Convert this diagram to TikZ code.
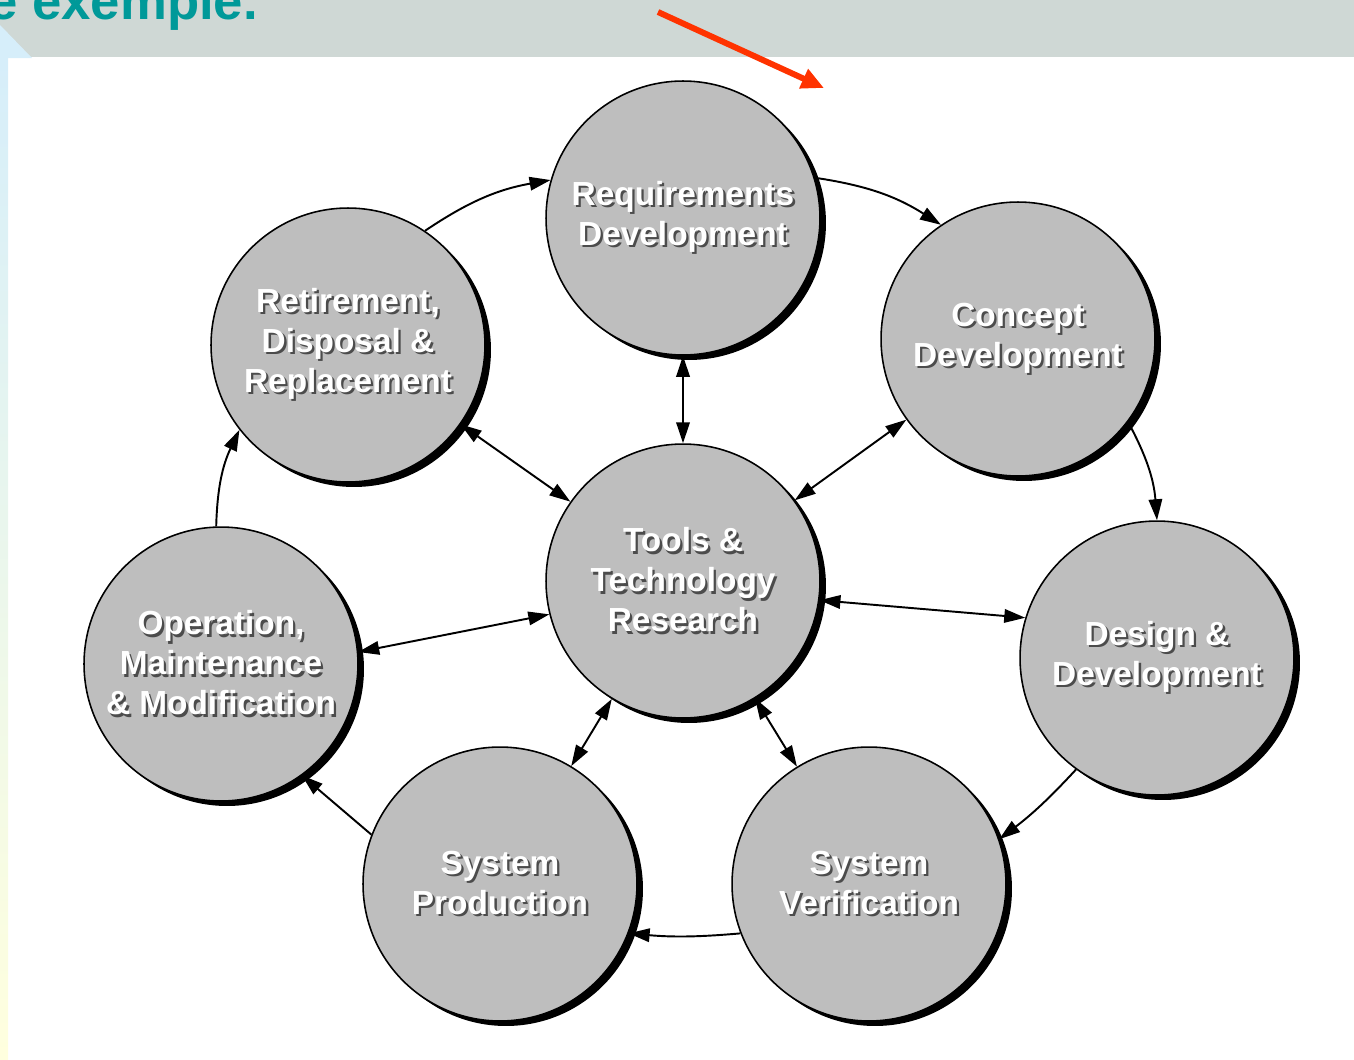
\documentclass[tikz,border=0pt]{standalone}
\usepackage{fontspec}
\setmainfont{Liberation Sans}
\usetikzlibrary{arrows.meta,shadows}
\definecolor{phasegray}{RGB}{190,190,190}
\definecolor{bandgray}{RGB}{207,216,213}
\definecolor{titleteal}{RGB}{0,153,153}
\definecolor{redarrow}{RGB}{255,51,0}
\definecolor{stripblue}{RGB}{214,238,250}
\definecolor{stripyellow}{RGB}{255,255,222}
\newcommand{\shtxt}[1]{\makebox[0pt][l]{\hspace{1.3pt}\raisebox{-1.3pt}{\textcolor{black!70}{#1}}}#1}
\tikzset{
  phase/.style={circle,draw,line width=0.9pt,fill=phasegray,minimum size=5.48cm,inner sep=0pt,
    text=white,font=\bfseries\fontsize{19}{22.8}\selectfont,align=center,
    drop shadow={shadow xshift=0.12cm,shadow yshift=-0.1cm,fill=black,opacity=1}},
  flow/.style={line width=1.1pt,-{Triangle[length=0.42cm,width=0.27cm]}},
  twoway/.style={line width=1.1pt,{Triangle[length=0.42cm,width=0.27cm]}-{Triangle[length=0.42cm,width=0.27cm]}}
}
\begin{document}
\begin{tikzpicture}[x=0.02cm,y=0.02cm]
    \useasboundingbox (0,0) rectangle (1354,-1059);
    \begin{scope}
        \clip (0,0) rectangle (1354,-1059);
        \fill[bandgray] (0,0) rectangle (1354,-57);
        \fill[stripblue] (0,-25) -- (32,-58) -- (0,-58) -- cycle;
        \shade[top color=stripblue,bottom color=stripyellow] (0,-58) rectangle (8,-1059);
        \node[anchor=base west,inner sep=0pt,text=titleteal,font=\bfseries\fontsize{30}{36}\selectfont] (title) at (-12,-19) {e exemple.};
    \end{scope}
    \coordinate (redtail) at (658,-12);
    \coordinate (redtip) at (824,-88);
    \draw[redarrow,line width=3.4pt,-{Triangle[length=0.45cm,width=0.4cm]}] (redtail) -- (redtip);

    \node[phase] (req) at (683,-218) {\shtxt{Requirements}\\\shtxt{Development}};
    \node[phase] (con) at (1018,-339) {\shtxt{Concept}\\\shtxt{Development}};
    \node[phase] (des) at (1157,-658) {\shtxt{Design \&}\\\shtxt{Development}};
    \node[phase] (ver) at (869,-884) {\shtxt{System}\\\shtxt{Verification}};
    \node[phase] (pro) at (500,-884) {\shtxt{System}\\\shtxt{Production}};
    \node[phase] (ope) at (221,-664) {\shtxt{Operation,}\\\shtxt{Maintenance}\\\shtxt{\& Modification}};
    \node[phase] (ret) at (348,-345) {\shtxt{Retirement,}\\\shtxt{Disposal \&}\\\shtxt{Replacement}};
    \node[phase] (tools) at (683,-581) {\shtxt{Tools \&}\\\shtxt{Technology}\\\shtxt{Research}};

    \draw[flow] (ret.56) to[bend left=12] (req.164);
    \draw[flow] (req.17) to[bend left=12] (con.124);
    \draw[flow] (con.-37) to[bend left=12] (des.90);
    \draw[flow] (des.234) to[bend left=5] (ver.19);
    \draw[flow] (ver.201) to[bend left=5] (pro.-21);
    \draw[flow] (pro.159) -- (ope.-54);
    \draw[flow] (ope.92) to[bend left=12] (ret.218);

    \draw[twoway] (tools) -- (req);
    \draw[twoway] (tools) -- (con);
    \draw[twoway] (tools.-8) -- (des.163);
    \draw[twoway] (tools) -- (ver);
    \draw[twoway] (tools) -- (pro);
    \draw[twoway] (tools.194) -- (ope.5);
    \draw[twoway] (tools) -- (ret);
\end{tikzpicture}
\end{document}
